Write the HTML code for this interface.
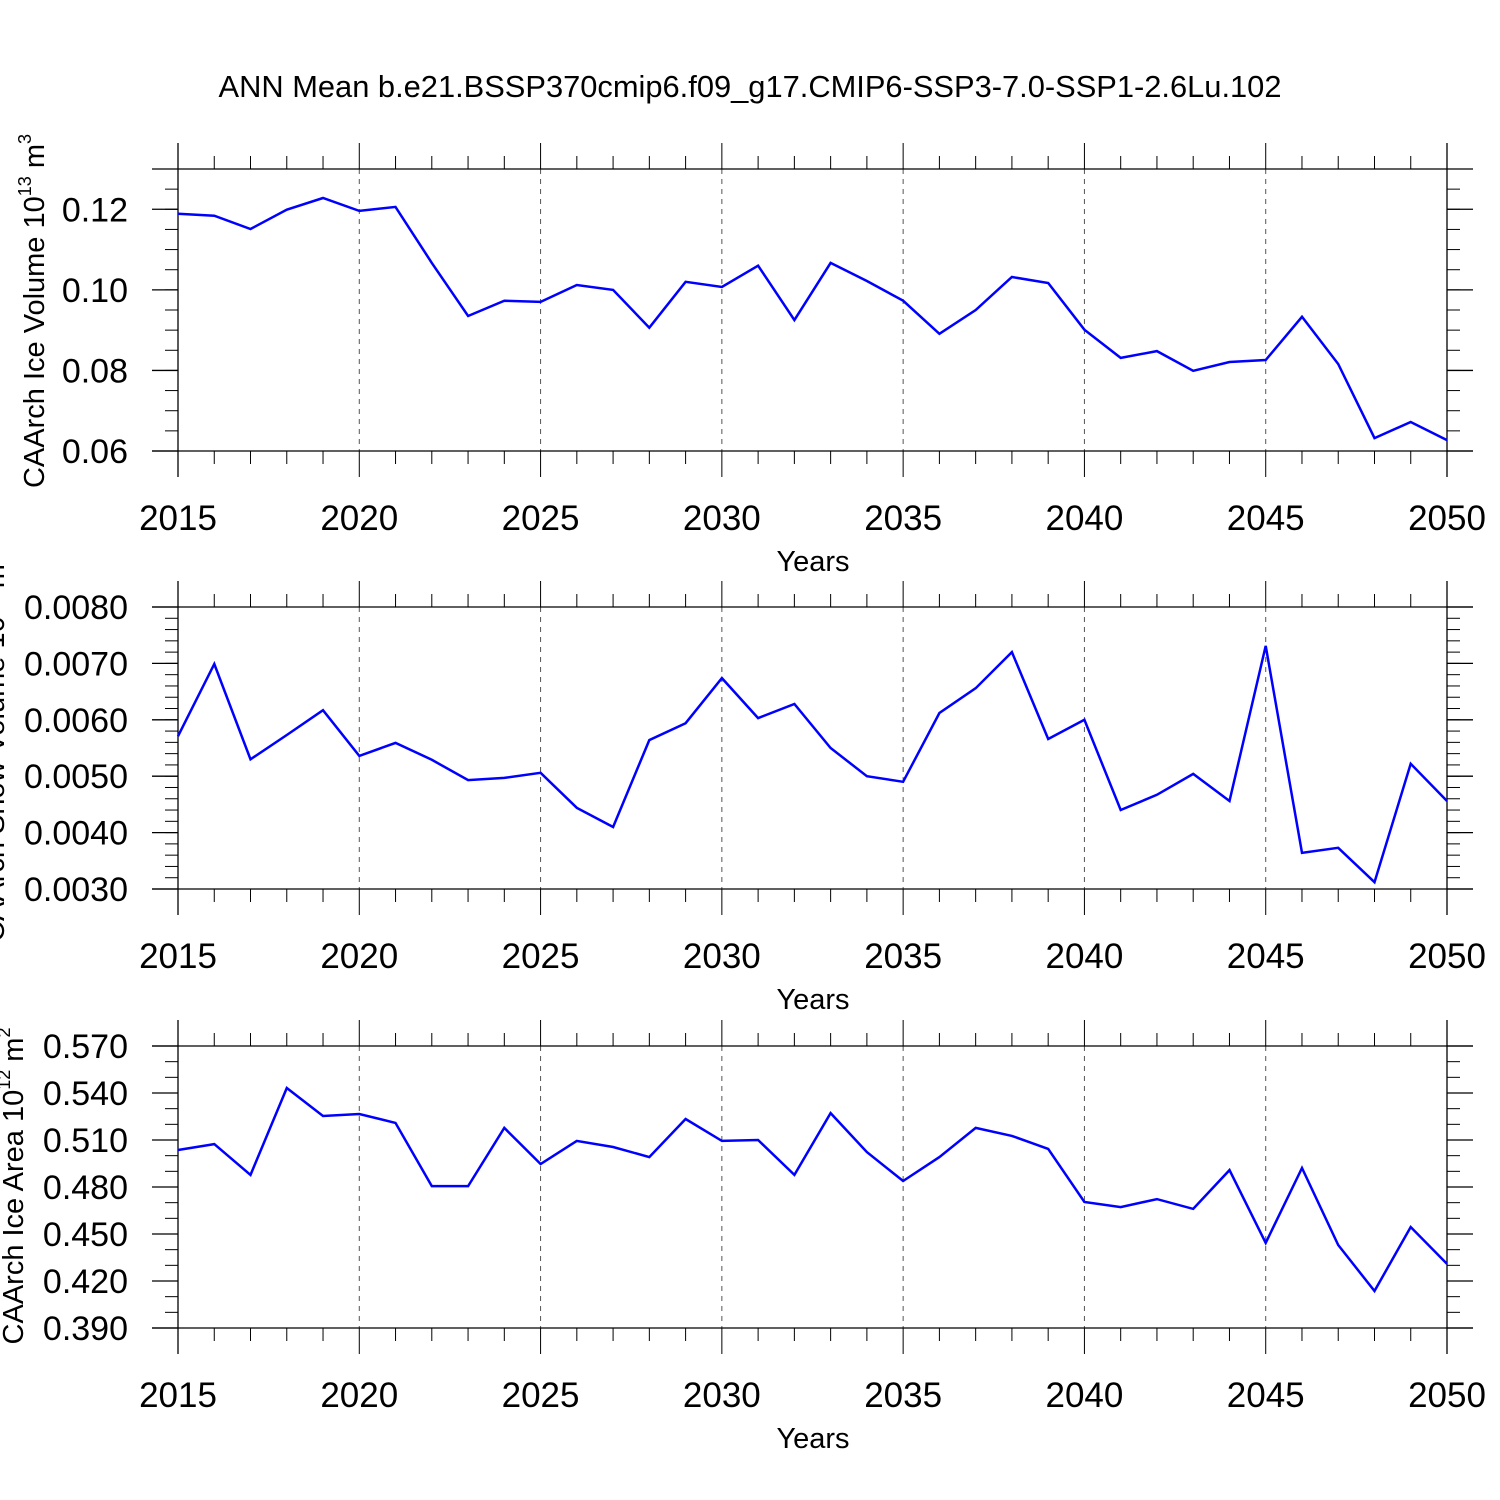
<!DOCTYPE html>
<html><head><meta charset="utf-8"><style>
html,body{margin:0;padding:0;background:#fff;}
svg{display:block;font-family:"Liberation Sans",sans-serif;}
</style></head><body>
<svg id="chart" width="1500" height="1500" viewBox="0 0 1500 1500" xmlns="http://www.w3.org/2000/svg">
<rect width="1500" height="1500" fill="#fff"/>
<text x="750" y="97" font-size="31" text-anchor="middle" textLength="1063" lengthAdjust="spacingAndGlyphs">ANN Mean b.e21.BSSP370cmip6.f09_g17.CMIP6-SSP3-7.0-SSP1-2.6Lu.102</text>
</svg>
<script>
const years = [2015,2016,2017,2018,2019,2020,2021,2022,2023,2024,2025,2026,2027,2028,2029,2030,2031,2032,2033,2034,2035,2036,2037,2038,2039,2040,2041,2042,2043,2044,2045,2046,2047,2048,2049,2050];
const iceVolume = [0.1189,0.1184,0.1151,0.1199,0.1228,0.1196,0.1206,0.1067,0.0935,0.0973,0.0970,0.1012,0.1000,0.0906,0.1020,0.1007,0.1060,0.0925,0.1067,0.1022,0.0973,0.0891,0.0950,0.1032,0.1017,0.0901,0.0831,0.0848,0.0799,0.0821,0.0826,0.0933,0.0816,0.0632,0.0672,0.0627];
const snowVolume = [0.00571,0.00699,0.00530,0.00573,0.00617,0.00536,0.00559,0.00529,0.00493,0.00497,0.00506,0.00444,0.00410,0.00564,0.00594,0.00674,0.00603,0.00628,0.00550,0.00500,0.00490,0.00612,0.00656,0.00720,0.00566,0.00600,0.00440,0.00467,0.00504,0.00456,0.00731,0.00364,0.00373,0.00312,0.00522,0.00456];
const iceArea = [0.5036,0.5074,0.4877,0.5432,0.5253,0.5266,0.5209,0.4806,0.4806,0.5177,0.4947,0.5094,0.5055,0.4991,0.5234,0.5094,0.5100,0.4877,0.5272,0.5023,0.4838,0.4991,0.5177,0.5126,0.5043,0.4704,0.4672,0.4723,0.4660,0.4908,0.4443,0.4921,0.4430,0.4136,0.4545,0.4309];
const xTickLabels = ["2015","2020","2025","2030","2035","2040","2045","2050"];
const iceVolTicks = ["0.06","0.08","0.10","0.12"];
const snowTicks = ["0.0030","0.0040","0.0050","0.0060","0.0070","0.0080"];
const areaTicks = ["0.390","0.420","0.450","0.480","0.510","0.540","0.570"];

const NS="http://www.w3.org/2000/svg";
const svg=document.getElementById('chart');
function mk(tag,attrs,parent){const e=document.createElementNS(NS,tag);for(const k in attrs)e.setAttribute(k,attrs[k]);(parent||svg).appendChild(e);return e;}
const X0=178,X1=1447;
function xs(yr){return X0+(yr-2015)/(2050-2015)*(X1-X0);}

const panels=[
 {name:'ice-volume',top:169,bot:451,ymin:0.06,ymax:0.13,minor:0.005,ticks:iceVolTicks,data:iceVolume,label:'CAArch Ice Volume 10',sup:'13',unit:' m',usup:'3',lab:311,lx:44},
 {name:'snow-volume',top:607,bot:889,ymin:0.003,ymax:0.008,minor:0.0002,ticks:snowTicks,data:snowVolume,label:'CAArch Snow Volume 10',sup:'13',unit:' m',usup:'3',lab:748,lx:4},
 {name:'ice-area',top:1046,bot:1328,ymin:0.39,ymax:0.57,minor:0.01,ticks:areaTicks,data:iceArea,label:'CAArch Ice Area 10',sup:'12',unit:' m',usup:'2',lab:1186,lx:23}
];
panels.forEach(p=>{
 const g=mk('g',{});
 
 
 const ys=v=>p.bot-(v-p.ymin)/(p.ymax-p.ymin)*(p.bot-p.top);
 for(let yr=2020;yr<2050;yr+=5){
  const l=mk('line',{x1:xs(yr),x2:xs(yr),y1:p.top,y2:p.bot,stroke:'#555','stroke-width':1,'stroke-dasharray':'5,5'},g);
  
  
 }
 mk('line',{x1:152,x2:1473,y1:p.top,y2:p.top,stroke:'#000','stroke-width':1.3},g);
 mk('line',{x1:152,x2:1473,y1:p.bot,y2:p.bot,stroke:'#000','stroke-width':1.3},g);
 mk('line',{x1:X0,x2:X0,y1:p.top-26,y2:p.bot+26,stroke:'#000','stroke-width':1.3},g);
 mk('line',{x1:X1,x2:X1,y1:p.top-26,y2:p.bot+26,stroke:'#000','stroke-width':1.3},g);
 years.forEach(yr=>{
  const x=xs(yr);const major=(yr%5===0);const len=major?26:13;
  mk('line',{x1:x,x2:x,y1:p.top-len,y2:p.top,stroke:'#000','stroke-width':1},g);
  mk('line',{x1:x,x2:x,y1:p.bot,y2:p.bot+len,stroke:'#000','stroke-width':1},g);
 });
 xTickLabels.forEach(s=>{
  const t=mk('text',{x:xs(+s),y:p.bot+79,'font-size':35,'text-anchor':'middle'},g);
  t.textContent=s;
  
  
 });
 const xt=mk('text',{x:813,y:p.bot+120,'font-size':29,'text-anchor':'middle'},g);
 xt.textContent='Years';
 
 
 const n=Math.round((p.ymax-p.ymin)/p.minor);
 for(let i=0;i<=n;i++){
  const y=ys(p.ymin+i*p.minor);
  mk('line',{x1:X0-13,x2:X0,y1:y,y2:y,stroke:'#000','stroke-width':1},g);
  mk('line',{x1:X1,x2:X1+13,y1:y,y2:y,stroke:'#000','stroke-width':1},g);
 }
 p.ticks.forEach(s=>{
  const y=ys(+s);
  mk('line',{x1:X0-26,x2:X0,y1:y,y2:y,stroke:'#000','stroke-width':1.3},g);
  mk('line',{x1:X1,x2:X1+26,y1:y,y2:y,stroke:'#000','stroke-width':1.3},g);
  const t=mk('text',{x:128,y:y+12,'font-size':34,'text-anchor':'end'},g);
  t.textContent=s;
  
  
 });
 const yl=mk('text',{x:0,y:0,'font-size':29,'text-anchor':'middle',transform:`translate(${p.lx},${p.lab}) rotate(-90)`},g);
 
 
 const a=mk('tspan',{},yl);a.textContent=p.label;
 const b=mk('tspan',{dy:-13,'font-size':18},yl);b.textContent=p.sup;
 const c=mk('tspan',{dy:13},yl);c.textContent=p.unit;
 const d=mk('tspan',{dy:-13,'font-size':18},yl);d.textContent=p.usup;
 const pts=p.data.map((v,i)=>xs(years[i]).toFixed(1)+','+ys(v).toFixed(1)).join(' ');
 const pl=mk('polyline',{points:pts,fill:'none',stroke:'#0000ff','stroke-width':2.5,'stroke-linejoin':'miter'},g);
 
 
});
</script>
</body></html>
